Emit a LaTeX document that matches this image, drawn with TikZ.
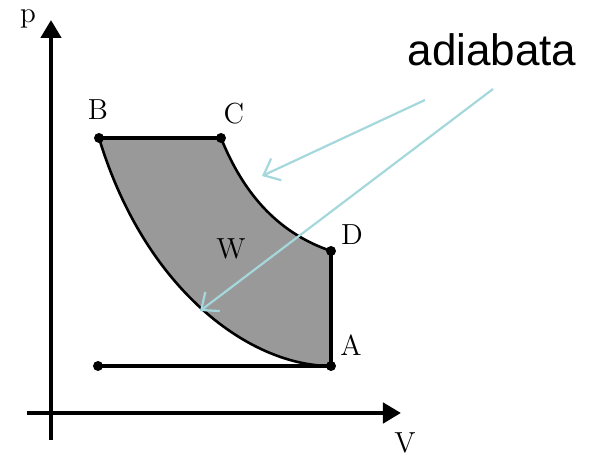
\documentclass[tikz,border=0pt]{standalone}
\usepackage{fontspec}
\newfontfamily\labelsans{Liberation Sans}
\usetikzlibrary{arrows.meta,positioning,calc}
\definecolor{workgray}{RGB}{153,153,153}
\definecolor{hintcyan}{RGB}{165,216,220}
\tikzset{
    axis/.style={
        line width=2.2pt,
        -{Triangle[length=9pt,width=10pt]}
    },
    process/.style={
        line width=1.6pt
    },
    state/.style={
        circle,
        fill=black,
        inner sep=0pt,
        minimum size=5pt
    },
    statelabel/.style={
        font=\fontsize{14.5}{16}\selectfont % serif state letters
    },
    pointer/.style={
        hintcyan,
        line width=1.1pt,
        -{Straight Barb[length=7pt,width=12pt,line width=1.1pt]}
    }
}

\begin{document}
\begin{tikzpicture}[x=0.5pt, y=-0.5pt]
    \useasboundingbox (0,0) rectangle (591,458);
    % states of the cycle
    \coordinate (B) at (99,138);
    \coordinate (C) at (221,138);
    \coordinate (D) at (331,251);
    \coordinate (A) at (331,366);
    \coordinate (start) at (98,366);
    % axes
    \coordinate (origin) at (51,440);
    \coordinate (ptop) at (51,20);
    \coordinate (vleft) at (27,413);
    \coordinate (vright) at (401,413);

    \fill [workgray] (B) -- (C) .. controls (242,190) and (275,232) .. (D)
        -- (A) .. controls (250,366) and (145,290) .. (B) -- cycle;

    \draw [axis] (origin) -- (ptop);
    \draw [axis] (vleft) -- (vright);

    \draw [process] (B) -- (C);
    \draw [line width=1.3pt] (C) .. controls (242,190) and (275,232) .. (D);
    \draw [process] (D) -- (A);
    \draw [process] (A) -- (start);
    \draw [line width=1.3pt] (A) .. controls (250,366) and (145,290) .. (B);

    \node (nB) [state] at (B) {};
    \node (nC) [state] at (C) {};
    \node (nD) [state] at (D) {};
    \node (nA) [state] at (A) {};
    \node (nstart) [state] at (start) {};

    \node (lB) [statelabel] at (98,110) {B};
    \node (lC) [statelabel] at (234,114) {C};
    \node (lD) [statelabel] at (352,235) {D};
    \node (lA) [statelabel] at (351,345) {A};
    \node (lW) [statelabel] at (231,249) {W};
    \node (lp) [statelabel] at (28,19) {p};
    \node (lV) [statelabel] at (405,443) {V};

    % the two adiabats
    \node (adiabata) [font=\labelsans\fontsize{22}{26}\selectfont] at (492,50) {adiabata};
    \coordinate (tail1) at (425,100);
    \coordinate (tip1) at (262,176);
    \coordinate (tail2) at (493,89);
    \coordinate (tip2) at (200,311);
    \draw [pointer] (tail1) -- (tip1);
    \draw [pointer] (tail2) -- (tip2);
\end{tikzpicture}
\end{document}
